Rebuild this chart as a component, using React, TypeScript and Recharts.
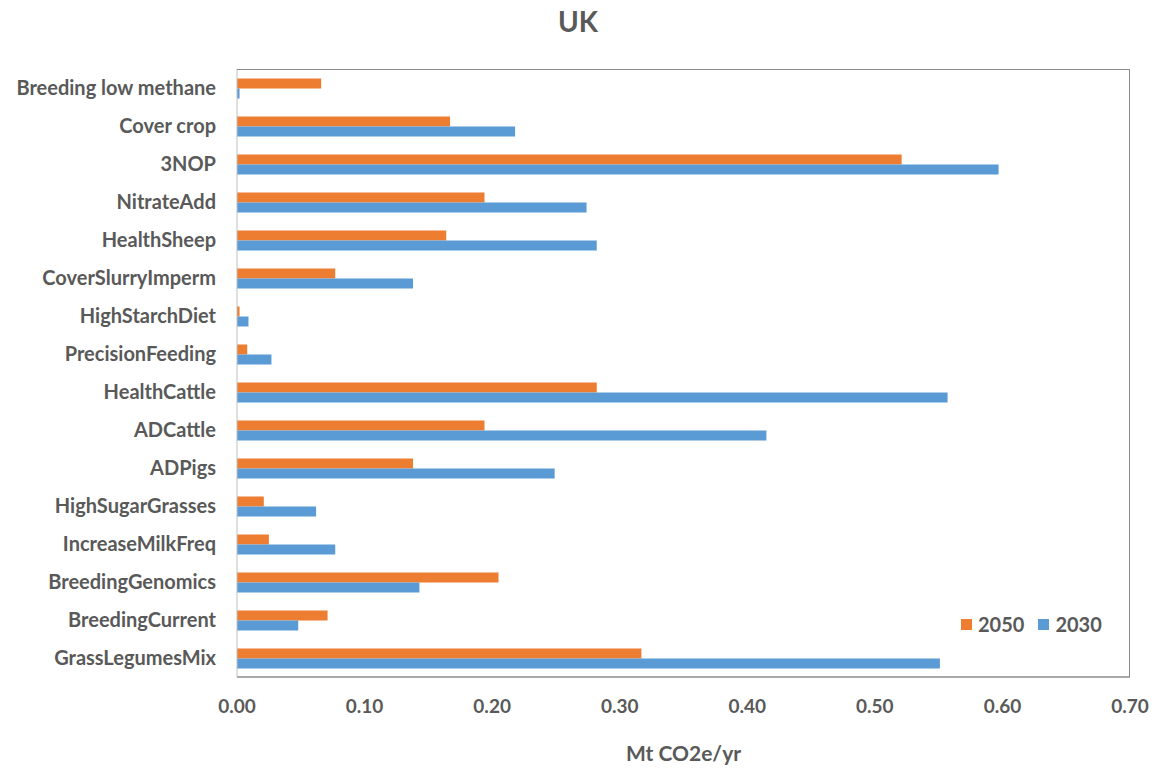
import { BarChart, Bar, XAxis, YAxis } from "recharts"

const categories = [
  "Breeding low methane",
  "Cover crop",
  "3NOP",
  "NitrateAdd",
  "HealthSheep",
  "CoverSlurryImperm",
  "HighStarchDiet",
  "PrecisionFeeding",
  "HealthCattle",
  "ADCattle",
  "ADPigs",
  "HighSugarGrasses",
  "IncreaseMilkFreq",
  "BreedingGenomics",
  "BreedingCurrent",
  "GrassLegumesMix",
]

const values2050 = [0.066, 0.167, 0.521, 0.194, 0.164, 0.077, 0.002, 0.008, 0.282, 0.194, 0.138, 0.021, 0.025, 0.205, 0.071, 0.317]
const values2030 = [0.002, 0.218, 0.597, 0.274, 0.282, 0.138, 0.009, 0.027, 0.557, 0.415, 0.249, 0.062, 0.077, 0.143, 0.048, 0.551]

const xTicks = [0, 0.1, 0.2, 0.3, 0.4, 0.5, 0.6, 0.7]

const series = [
  { key: "y2050", name: "2050", color: "#ED7D31" },
  { key: "y2030", name: "2030", color: "#5B9BD5" },
]

const data = categories.map((name, i) => ({
  name,
  y2050: values2050[i],
  y2030: values2030[i],
}))

const FONT = "Lato, 'Open Sans', sans-serif"
const GREY = "#595959"

// plot box, used for the frame overlay
const PLOT = { left: 237, top: 69, right: 1130, bottom: 677 }

export default function App() {
  return (
    <div style={{ position: "absolute", left: 0, top: 0, width: 1156, height: 772, background: "#fff", fontFamily: FONT }}>
      <div style={{ position: "absolute", top: 4, width: 1156, textAlign: "center", fontSize: 28, fontWeight: 700, color: GREY }}>
        UK
      </div>
      <BarChart
        width={1156}
        height={772}
        data={data}
        layout="vertical"
        margin={{ top: PLOT.top, right: 1156 - PLOT.right, bottom: 5, left: 0 }}
        barCategoryGap="25%"
        barGap={0}
      >
        <XAxis
          type="number"
          domain={[0, 0.7]}
          ticks={xTicks}
          tickFormatter={(v: number) => v.toFixed(2)}
          tickLine={false}
          tickMargin={17}
          axisLine={{ stroke: "#8c8c8c", strokeWidth: 1.5 }}
          height={90}
          tick={{ fill: GREY, fontSize: 19, fontWeight: 700, fontFamily: FONT }}
          label={{ value: "Mt CO2e/yr", position: "insideBottom", offset: 6, fill: GREY, fontSize: 21, fontWeight: 700, fontFamily: FONT }}
        />
        <YAxis
          type="category"
          dataKey="name"
          width={PLOT.left}
          tickLine={false}
          tickMargin={15}
          interval={0}
          axisLine={{ stroke: "#bfbfbf" }}
          tick={{ fill: GREY, fontSize: 20, fontWeight: 700, fontFamily: FONT }}
        />
        {series.map((s) => (
          <Bar key={s.key} dataKey={s.key} name={s.name} fill={s.color} isAnimationActive={false} />
        ))}
      </BarChart>
      <div
        style={{
          position: "absolute",
          left: PLOT.left,
          top: PLOT.top,
          width: PLOT.right - PLOT.left,
          height: PLOT.bottom - PLOT.top,
          borderTop: "1.5px solid #8c8c8c",
          borderRight: "1.5px solid #8c8c8c",
          boxSizing: "border-box",
          pointerEvents: "none",
        }}
      />
      <div style={{ position: "absolute", left: 961, top: 612, display: "flex", gap: 14, fontSize: 20, fontWeight: 700, color: GREY }}>
        {series.map((s) => (
          <div key={s.key} style={{ display: "flex", alignItems: "center", gap: 6 }}>
            <span style={{ width: 11, height: 11, background: s.color, display: "inline-block" }} />
            <span>{s.name}</span>
          </div>
        ))}
      </div>
    </div>
  )
}
